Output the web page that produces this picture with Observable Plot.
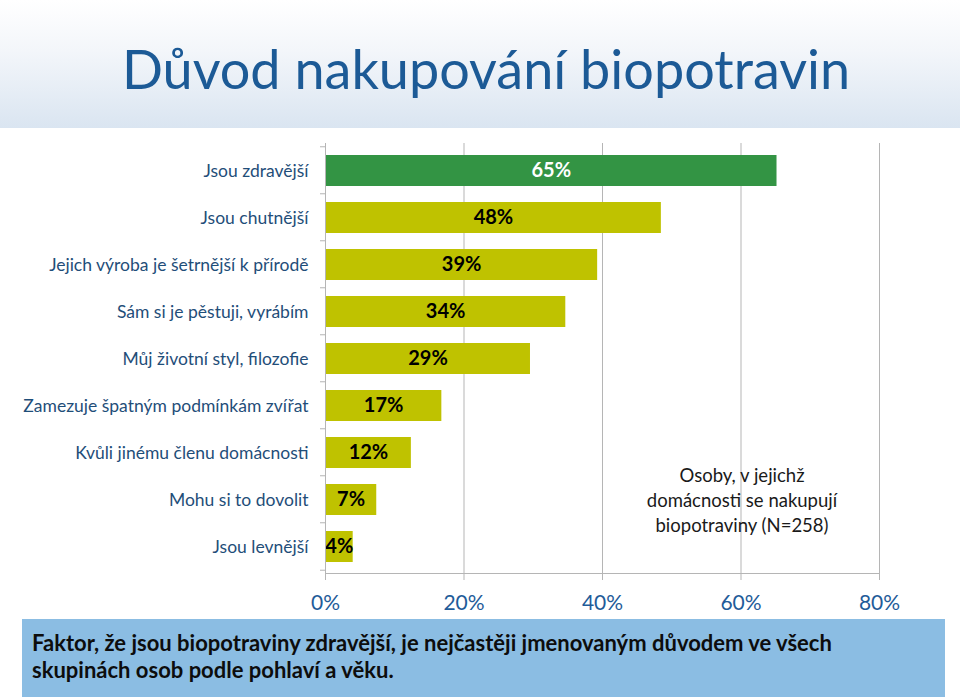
<!DOCTYPE html>
<html><head><meta charset="utf-8">
<script src="https://cdn.jsdelivr.net/npm/d3@7"></script>
<script src="https://cdn.jsdelivr.net/npm/@observablehq/plot@0.6"></script>
<style>
body{margin:0;background:#fff;}
#wrap{position:relative;width:960px;height:697px;overflow:hidden;font-family:Lato,"Open Sans",sans-serif;}
#header{position:absolute;left:0;top:0;width:960px;height:128px;background:linear-gradient(#ffffff 0%,#f3f6fa 40%,#dae5f1 100%);}
#title{position:absolute;left:6px;top:34px;width:960px;text-align:center;font-size:54px;line-height:70px;color:#1c5a96;}
#chart{position:absolute;left:0;top:0;}
#note{position:absolute;left:602px;width:280px;top:463px;text-align:center;font-size:18.5px;line-height:25px;color:#1a1a1a;}
#footer{position:absolute;left:22px;top:619px;width:923px;height:78px;background:#8bbde3;}
#footer div{position:absolute;left:10px;top:10px;width:910px;font-size:22px;font-weight:bold;line-height:27px;color:#0d0d0d;white-space:nowrap;}
</style></head>
<body>
<div id="wrap">
  <div id="header"></div>
  <div id="title">Důvod nakupování biopotravin</div>
  <div id="chart"></div>
  <div id="note">Osoby, v jejichž<br>domácnosti se nakupují<br>biopotraviny (N=258)</div>
  <div id="footer"><div>Faktor, že jsou biopotraviny zdravější, je nejčastěji jmenovaným důvodem ve všech<br>skupinách osob podle pohlaví a věku.</div></div>
</div>
<script>
const categories = [
  "Jsou zdravější",
  "Jsou chutnější",
  "Jejich výroba je šetrnější k přírodě",
  "Sám si je pěstuji, vyrábím",
  "Můj životní styl, filozofie",
  "Zamezuje špatným podmínkám zvířat",
  "Kvůli jinému členu domácnosti",
  "Mohu si to dovolit",
  "Jsou levnější"
];
const values = [65.2, 48.5, 39.3, 34.7, 29.6, 16.8, 12.4, 7.4, 4.0];
const valueLabels = ["65%", "48%", "39%", "34%", "29%", "17%", "12%", "7%", "4%"];
const xTicks = [0, 20, 40, 60, 80];

const data = categories.map((c, i) => ({cat: c, value: values[i], label: valueLabels[i], top: i === 0}));

const GREEN = "#339444", OLIVE = "#bfc200", GRID = "#b5b5b5";

const chart = Plot.plot({
  width: 960,
  height: 620,
  marginLeft: 325,
  marginRight: 81,
  marginTop: 143,
  marginBottom: 47,
  style: {fontFamily: "Lato, 'Open Sans', sans-serif", background: "transparent", overflow: "visible"},
  x: {domain: [0, 80], label: null},
  y: {domain: categories, paddingInner: 0.35, paddingOuter: 0.175, label: null},
  marks: [
    Plot.gridX(xTicks.filter(d => d > 0), {stroke: GRID, strokeOpacity: 1}),
    Plot.barX(data, {y: "cat", x: "value", fill: d => d.top ? GREEN : OLIVE}),
    Plot.text(data, {y: "cat", x: d => d.value / 2, text: "label", fill: d => d.top ? "#ffffff" : "#000000", fontSize: 20, fontWeight: "bold"}),
    Plot.ruleX([0], {stroke: GRID}),
    Plot.frame({anchor: "bottom", stroke: GRID}),
    Plot.axisX(xTicks, {tickSize: 7, tickPadding: 15, fontSize: 21, fill: "#1f5c99", stroke: GRID, tickFormat: d => d + "%", label: null}),
    Plot.axisY({tickSize: 0, tickPadding: 17, fontSize: 17.5, fill: "#1f4e79", label: null})
  ]
});
document.getElementById("chart").appendChild(chart);

// category boundary ticks on the left axis
const ys = chart.scale("y"), xs = chart.scale("x");
const x0 = xs.apply(0);
const bounds = categories.map(c => ys.apply(c) - ys.step * 0.175);
bounds.push(ys.apply(categories[categories.length - 1]) + ys.bandwidth + ys.step * 0.175);
d3.select(chart).append("g").selectAll("line").data(bounds).join("line")
  .attr("x1", x0 - 5).attr("x2", x0).attr("y1", d => d).attr("y2", d => d)
  .attr("stroke", GRID);
</script>
</body></html>
